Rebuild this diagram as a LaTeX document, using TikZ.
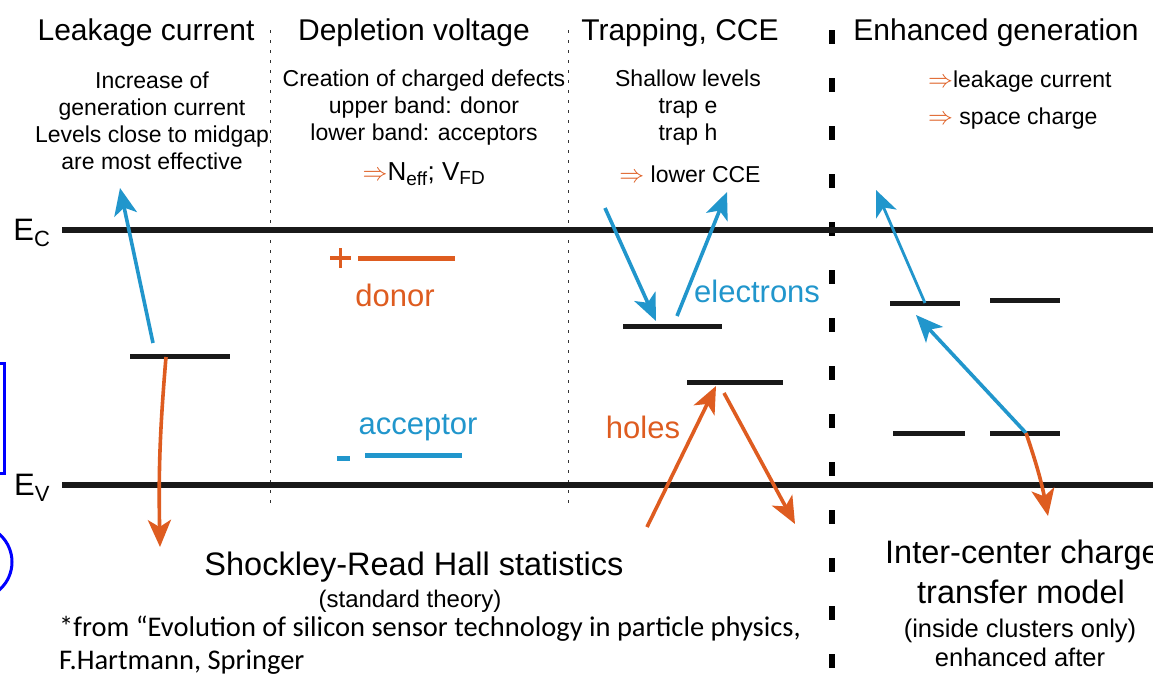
\documentclass[tikz,border=0pt]{standalone}
\usepackage{fontspec}
\setmainfont{Liberation Sans}
\newfontfamily\notefont{Carlito}
\usepackage{tikz}
\usetikzlibrary{arrows.meta, positioning}
\definecolor{eblue}{RGB}{33,150,204}
\definecolor{horange}{RGB}{222,92,32}
\colorlet{levelcol}{black!90}

\tikzset{
  titletext/.style={font=\fontsize{30}{34}\selectfont, inner sep=0pt},
  bodytext/.style={font=\fontsize{23}{27}\selectfont, align=center, inner sep=0pt},
  carriertext/.style={font=\fontsize{31}{34}\selectfont, inner sep=0pt},
  notetext/.style={font=\notefont\fontsize{28.5}{33}\selectfont, inner sep=0pt, anchor=base west},
  level/.style={levelcol, line width=5pt},
  carrier/.style={line width=3.6pt, -{Stealth[length=27pt, width=23pt, inset=7pt]}},
  thincarrier/.style={line width=2.8pt, -{Stealth[length=26pt, width=22pt, inset=7pt]}},
  colsep/.style={black!80, line width=1pt, dash pattern=on 3pt off 7pt},
  bandlabel/.style={font=\fontsize{31}{34}\selectfont, inner sep=0pt},
}

\begin{document}
\begin{tikzpicture}[x=1pt, y=-1pt]
  \clip (0,0) rectangle (1153,678);
  \fill[white] (0,0) rectangle (1153,678);

  % column separators
  \draw[colsep] (270,30) -- (270,510);
  \draw[colsep] (568,30) -- (568,510);
  \draw[line width=6.5pt, dash pattern=on 14pt off 34pt] (832,30) -- (832,668);

  % bands
  \draw[level, line width=6pt] (62,230) -- (1153,230);
  \draw[level, line width=6pt] (62,485) -- (1153,485);
  \node[bandlabel] (ec) at (32,233) {E\textsubscript{\fontsize{22}{22}\selectfont C}};
  \node[bandlabel] (ev) at (32,488) {E\textsubscript{\fontsize{22}{22}\selectfont V}};

  % titles
  \node[titletext] (t1) at (146,33) {Leakage current};
  \node[titletext] (t2) at (414,33) {Depletion voltage};
  \node[titletext] (t3) at (680,33) {Trapping, CCE};
  \node[titletext] (t4) at (996,33) {Enhanced generation};

  \node[bodytext] (leaktxt) at (152,121) {Increase of\\generation current\\Levels close to midgap\\are most effective};
  \node[bodytext] (defecttxt) at (424,108) {Creation of charged defects\\upper band: donor\\lower band: acceptors};
  \node[bodytext, font=\fontsize{26}{30}\selectfont] (nefftxt) at (424,174)
    {{\color{horange}$\Rightarrow$}N\textsubscript{\fontsize{19}{19}\selectfont eff}; V\textsubscript{\fontsize{19}{19}\selectfont FD}};
  \node[bodytext] (traptxt) at (688,108) {Shallow levels\\trap e\\trap h};
  \node[bodytext] (ccetxt) at (690,174) {{\color{horange}$\Rightarrow$} lower CCE};
  \node[bodytext, anchor=west] (gen1) at (928,82) {{\color{horange}$\Rightarrow$}leakage current};
  \node[bodytext, anchor=west] (gen2) at (928,119) {{\color{horange}$\Rightarrow$} space charge};

  % leakage current
  \draw[level] (130,356) -- (230,356);
  \coordinate (mid) at (166,357);
  \coordinate (midup) at (153,343);
  \coordinate (cbtop) at (120,188);
  \coordinate (vbbot) at (160,547);
  \draw[carrier, eblue] (midup) -- (cbtop);
  \draw[carrier, horange] (mid) to[bend right=3] (vbbot);

  % donor and acceptor
  \draw[horange, line width=3.5pt] (330,258) -- (351,258) (340.5,248) -- (340.5,268);
  \draw[horange, line width=5pt] (358,258) -- (455,258);
  \node[carriertext, text=horange] (donor) at (395,295) {donor};
  \node[carriertext, text=eblue] (acc) at (418,428) {acceptor};
  \draw[eblue, line width=5pt] (337,458) -- (350,458);
  \draw[eblue, line width=5pt] (365,455) -- (462,455);

  % trapping
  \draw[level] (623,326) -- (722,326);
  \draw[level] (687,382) -- (783,382);
  \coordinate (e0) at (605,208);
  \coordinate (e1) at (656,321);
  \coordinate (e2) at (677,316);
  \coordinate (e3) at (727,192);
  \coordinate (h0) at (647,527);
  \coordinate (h1) at (716,386);
  \coordinate (h2) at (724,393);
  \coordinate (h3) at (795,524);
  \draw[carrier, eblue] (e0) -- (e1);
  \draw[carrier, eblue] (e2) -- (e3);
  \draw[carrier, horange] (h0) -- (h1);
  \draw[carrier, horange] (h2) -- (h3);
  \node[carriertext, text=eblue, anchor=west] (elec) at (694,291) {electrons};
  \node[carriertext, text=horange] (holes) at (643,427) {holes};

  % enhanced generation
  \draw[level] (890,303) -- (960,303);
  \draw[level] (990,300) -- (1060,300);
  \draw[level] (893,433) -- (965,433);
  \draw[level] (990,433) -- (1060,433);
  \coordinate (c1) at (925,303);
  \coordinate (c1up) at (876,190);
  \coordinate (c2) at (1026,433);
  \coordinate (c1low) at (916,315);
  \coordinate (c2down) at (1048,516);
  \draw[thincarrier, eblue] (c1) -- (c1up);
  \draw[carrier, eblue] (c2) -- (c1low);
  \draw[carrier, horange] (c2) to[bend left=4] (c2down);

  % bottom texts
  \node[font=\fontsize{32.5}{36}\selectfont, inner sep=0pt] (srh) at (414,567) {Shockley-Read Hall statistics};
  \node[font=\fontsize{24}{28}\selectfont, inner sep=0pt] (std) at (410,601) {(standard theory)};
  \node[font=\fontsize{32.5}{36}\selectfont, inner sep=0pt, anchor=west] (icct) at (885,555) {Inter-center charge};
  \node[font=\fontsize{32.5}{36}\selectfont, inner sep=0pt] (tm) at (1021,592) {transfer model};
  \node[bodytext, font=\fontsize{25.5}{29}\selectfont] (incl) at (1020,643) {(inside clusters only)\\enhanced after};
  \node[notetext] (src1) at (59,636) {*from “Evolution of silicon sensor technology in particle physics,};
  \node[notetext] (src2) at (59,669) {F.Hartmann, Springer};

  % cut-off marks at the left edge
  \draw[blue, line width=3pt] (-10,363) rectangle (4,473);
  \draw[blue, line width=3pt] (-25,562) circle (37);
\end{tikzpicture}
\end{document}
